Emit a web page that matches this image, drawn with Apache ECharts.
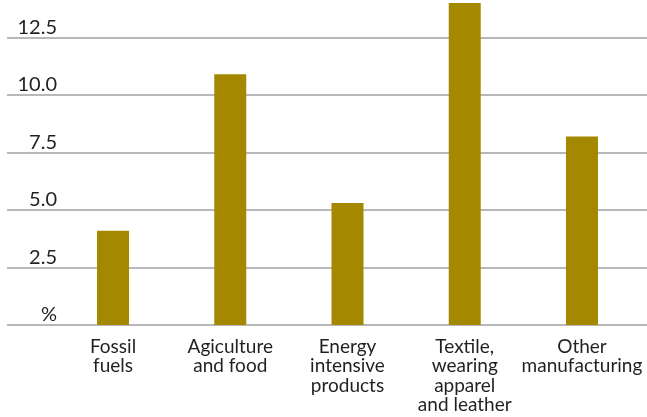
<!DOCTYPE html>
<html><head><meta charset="utf-8">
<script src="https://cdn.jsdelivr.net/npm/echarts@6/dist/echarts.min.js"></script>
<style>html,body{margin:0;padding:0;background:#fff}#c{width:647px;height:417px}</style>
</head><body><div id="c"></div>
<script>
const categories = ['Fossil\nfuels', 'Agiculture\nand food', 'Energy\nintensive\nproducts', 'Textile,\nwearing\napparel\nand leather', 'Other\nmanufacturing'];
const values = [4.1, 10.9, 5.3, 14.0, 8.2];
const yTicks = [0, 2.5, 5.0, 7.5, 10.0, 12.5];
const yTickLabels = ['%', '2.5', '5.0', '7.5', '10.0', '12.5'];

const FONT = 'Lato, "Noto Sans", sans-serif';
const TXT = '#231f20';
const chart = echarts.init(document.getElementById('c'), null, {renderer: 'canvas'});
chart.setOption({
  animation: false,
  backgroundColor: '#fff',
  grid: [
    {left: 7, right: 0, top: 37.5, bottom: 92},
    {left: 54.4, right: 6.4, top: 3, bottom: 92}
  ],
  xAxis: [
    {gridIndex: 0, type: 'value', show: false, min: 0, max: 1},
    {gridIndex: 1, type: 'category', data: categories,
     axisLine: {show: false}, axisTick: {show: false},
     axisLabel: {color: TXT, fontFamily: FONT, fontSize: 19, lineHeight: 19.5, margin: 12, interval: 0}}
  ],
  yAxis: [
    {gridIndex: 0, type: 'value', min: 0, max: 12.5, interval: 2.5,
     axisLine: {show: false}, axisTick: {show: false},
     splitLine: {show: true, lineStyle: {color: '#b8b8bc', width: 2}},
     axisLabel: {color: TXT, fontFamily: FONT, fontSize: 20, lineHeight: 20, margin: -50,
       align: 'right', verticalAlign: 'bottom',
       formatter: v => { const i = yTicks.indexOf(v); return i >= 0 ? yTickLabels[i] : ''; }}},
    {gridIndex: 1, type: 'value', min: 0, max: 14, show: false, splitLine: {show: false}}
  ],
  series: [{
    type: 'bar', xAxisIndex: 1, yAxisIndex: 1, data: values, barWidth: 32,
    itemStyle: {color: '#a38800'}
  }]
});
</script></body></html>
